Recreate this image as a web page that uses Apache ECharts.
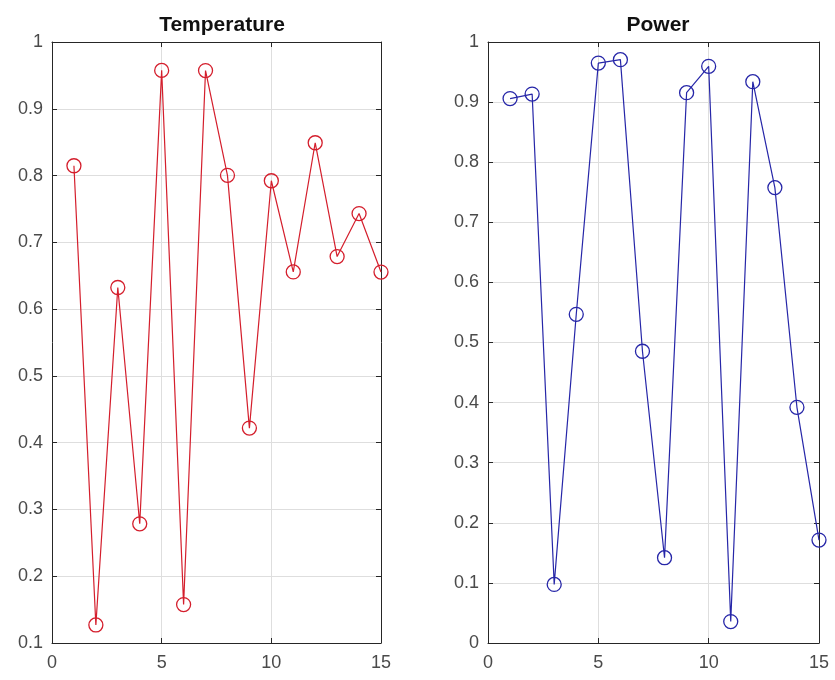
<!DOCTYPE html>
<html>
<head>
<meta charset="utf-8">
<script src="https://cdn.jsdelivr.net/npm/echarts@6/dist/echarts.min.js"></script>
<style>
  html, body { margin: 0; padding: 0; background: #fff; }
  #chart { width: 835px; height: 680px; }
</style>
</head>
<body>
<div id="chart"></div>
<script>
const xValues = [1, 2, 3, 4, 5, 6, 7, 8, 9, 10, 11, 12, 13, 14, 15]
const temperature = [0.8147, 0.1270, 0.6324, 0.2785, 0.9575, 0.1576, 0.9572, 0.8003, 0.4218, 0.7922, 0.6557, 0.8491, 0.6787, 0.7431, 0.6555]
const power = [0.9058, 0.9134, 0.0975, 0.5469, 0.9649, 0.9706, 0.4854, 0.1419, 0.9157, 0.9595, 0.0357, 0.9340, 0.7577, 0.3922, 0.1712]
const titles = ['Temperature', 'Power']

const AXIS = '#262626'
const GRID = '#dedede'
const FONT = 'Liberation Sans, Arial, sans-serif'

function xAxis(gridIndex, position) {
  const main = position === 'bottom'
  return {
    type: 'value', gridIndex, position, min: 0, max: 15, interval: 5,
    axisLine: { show: true, onZero: false, lineStyle: { color: AXIS, width: 1 } },
    axisTick: { show: true, inside: true, length: 5, lineStyle: { color: AXIS } },
    axisLabel: { show: main, color: '#4a4a4a', fontSize: 18, fontFamily: FONT, margin: 11 },
    splitLine: { show: main, lineStyle: { color: GRID } },
  }
}

function yAxis(gridIndex, position, min) {
  const main = position === 'left'
  return {
    type: 'value', gridIndex, position, min, max: 1, interval: 0.1,
    axisLine: { show: true, onZero: false, lineStyle: { color: AXIS, width: 1 } },
    axisTick: { show: true, inside: true, length: 5, lineStyle: { color: AXIS } },
    axisLabel: {
      show: main, color: '#4a4a4a', fontSize: 18, fontFamily: FONT, margin: 9,
      formatter: (v) => (Math.round(v * 10) / 10).toString(),
    },
    splitLine: { show: main, lineStyle: { color: GRID } },
  }
}

function lineSeries(data, color, axisIndex) {
  return {
    type: 'line',
    xAxisIndex: axisIndex, yAxisIndex: axisIndex,
    data: xValues.map((x, i) => [x, data[i]]),
    symbol: 'circle', symbolSize: 14,
    lineStyle: { color, width: 1.2 },
    itemStyle: { color: 'rgba(0,0,0,0)', borderColor: color, borderWidth: 1.3 },
    showSymbol: true,
    animation: false,
    clip: false,
  }
}

const chart = echarts.init(document.getElementById('chart'), null, { renderer: 'canvas' })
chart.setOption({
  backgroundColor: '#fff',
  animation: false,
  title: [
    { text: titles[0], left: 217, top: 10, textAlign: 'center', textStyle: { fontSize: 21, fontWeight: 'bold', color: '#111', fontFamily: FONT } },
    { text: titles[1], left: 653, top: 10, textAlign: 'center', textStyle: { fontSize: 21, fontWeight: 'bold', color: '#111', fontFamily: FONT } },
  ],
  grid: [
    { left: 52, top: 42, width: 329, height: 601 },
    { left: 488, top: 42, width: 331, height: 601 },
  ],
  xAxis: [xAxis(0, 'bottom'), xAxis(1, 'bottom'), xAxis(0, 'top'), xAxis(1, 'top')],
  yAxis: [yAxis(0, 'left', 0.1), yAxis(1, 'left', 0), yAxis(0, 'right', 0.1), yAxis(1, 'right', 0)],
  series: [
    lineSeries(temperature, '#d41e2c', 0),
    lineSeries(power, '#2626a8', 1),
  ],
})
</script>
</body>
</html>
